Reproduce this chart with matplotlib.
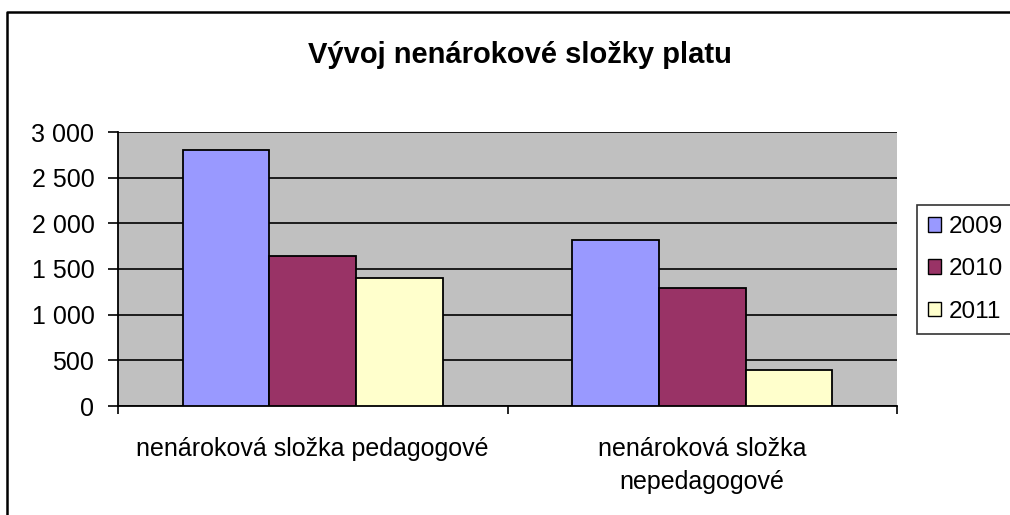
import numpy as np
import matplotlib
matplotlib.use('Agg')
import matplotlib.pyplot as plt
from matplotlib.lines import Line2D
from matplotlib.patches import Patch

plt.rcParams['font.family'] = ['Liberation Sans', 'DejaVu Sans']

categories = ['nenároková složka pedagogové', 'nenároková složka\nnepedagogové']
years = ['2009', '2010', '2011']
values_2009 = [2800, 1820]
values_2010 = [1640, 1290]
values_2011 = [1400, 390]
colors = ['#9999FF', '#993366', '#FFFFCC']
yticks = [0, 500, 1000, 1500, 2000, 2500, 3000]

fig = plt.figure(figsize=(10.1, 5.15), dpi=100)
ax = fig.add_axes([118 / 1010, 1 - 406 / 515, (897 - 118) / 1010, (406 - 132) / 515])
ax.set_facecolor('#C0C0C0')

x = np.arange(len(categories))
w = 1 / 4.5
series = [values_2009, values_2010, values_2011]
for i, vals in enumerate(series):
    ax.bar(x + (i - 1) * w, vals, width=w, color=colors[i], edgecolor='black',
           linewidth=1.3, zorder=3)

ax.set_xlim(-0.5, 1.5)
ax.set_ylim(0, 3000)
ax.set_yticks(yticks)
ax.set_yticklabels([f'{v:,}'.replace(',', ' ') for v in yticks], fontsize=18)
ax.yaxis.grid(True, color='black', linewidth=1.2, zorder=1)
ax.tick_params(axis='y', length=7, width=1.2, pad=10)

# category boundaries get the ticks, labels sit in the middle
ax.set_xticks([-0.5, 0.5, 1.5])
ax.set_xticklabels([])
ax.set_xticks(x, minor=True)
ax.set_xticklabels(categories, minor=True, fontsize=18, linespacing=1.5)
ax.tick_params(axis='x', which='major', length=6, width=1.2, direction='out')
ax.tick_params(axis='x', which='minor', length=0, pad=22)

for s in ['top', 'right']:
    ax.spines[s].set_visible(False)
ax.spines['left'].set_linewidth(1.3)
ax.spines['bottom'].set_linewidth(1.3)

fig.text(520 / 1010, 1 - 55 / 515, 'Vývoj nenárokové složky platu', fontsize=21,
         fontweight='bold', ha='center', va='center')

handles = [Patch(facecolor=c, edgecolor='black', linewidth=1) for c in colors]
leg = fig.legend(handles, years, loc='upper left', bbox_to_anchor=(917 / 1010, 1 - 205 / 515),
                 fontsize=17.5, frameon=True, fancybox=False, edgecolor='black',
                 handlelength=0.55, handleheight=0.55, handletextpad=0.3,
                 labelspacing=0.84, borderpad=0.45, borderaxespad=0)
leg.get_frame().set_linewidth(1.2)

# chart border, only left and top are inside the picture
fig.add_artist(Line2D([7 / 1010, 7 / 1010, 1.0], [0.0, 1 - 12 / 515, 1 - 12 / 515],
                      transform=fig.transFigure, color='black', linewidth=1.8))

fig.savefig('out.png', dpi=100)
